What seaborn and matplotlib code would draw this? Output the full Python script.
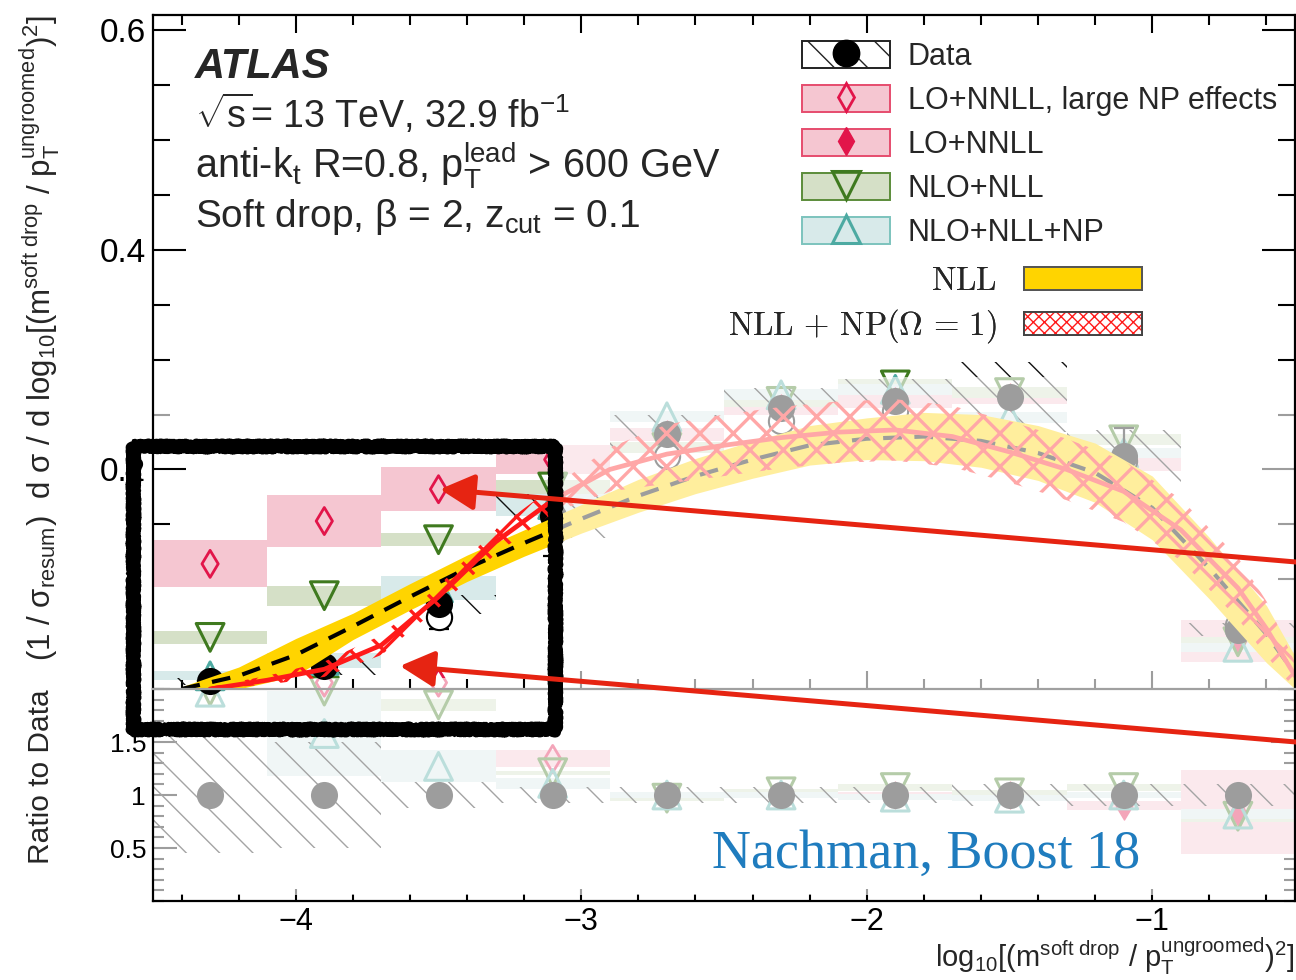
import numpy as np
import matplotlib
matplotlib.use("Agg")
import matplotlib.pyplot as plt
import seaborn as sns
from matplotlib.patches import Rectangle, Patch
from matplotlib.lines import Line2D
from matplotlib.font_manager import FontProperties
from matplotlib.ticker import MultipleLocator, FixedLocator, FuncFormatter

sns.set_theme(style="ticks")
plt.rcParams.update({
    "font.family": ["Liberation Sans", "DejaVu Sans"],
    "mathtext.fontset": "custom",
    "mathtext.rm": "Liberation Sans",
    "mathtext.it": "Liberation Sans:italic",
    "mathtext.bf": "Liberation Sans:bold",
    "axes.linewidth": 1.6,
    "axes.edgecolor": "black",
    "xtick.color": "black",
    "ytick.color": "black",
    "hatch.linewidth": 1.0,
})

nan = np.nan

# ---------------- binning in log10[(m / pT)^2] ----------------
bin_edges = np.array([-4.5, -4.1, -3.7, -3.3, -2.9, -2.5, -2.1, -1.7, -1.3, -0.9, -0.5])
centers = 0.5 * (bin_edges[:-1] + bin_edges[1:])
widths = np.diff(bin_edges)

# ---------------- unfolded data ----------------
data_y = np.array([0.007, 0.021, 0.077, 0.158, 0.232, 0.256, 0.262, 0.266, 0.212, 0.054])
data_err = np.array([0.003, 0.008, 0.009, 0.020, 0.018, 0.018, 0.020, 0.032, 0.024, 0.006])
data_ratio = data_y / data_y
data_ratio_err = np.array([0.55, 0.50, 0.12, 0.08, 0.08, 0.08, 0.08, 0.10, 0.10, 0.10])

# ---------------- LO+NNLL, large NP effects ----------------
lonp_y = np.array([0.114, 0.153, 0.182, 0.209, nan, nan, nan, nan, nan, nan])
lonp_err = np.array([0.0215, 0.024, 0.020, 0.013, nan, nan, nan, nan, nan, nan])
lonp_ratio = np.array([nan, 2.06, 2.06, 1.34, nan, nan, nan, nan, nan, nan])
lonp_rerr = np.array([nan, nan, nan, 0.08, nan, nan, nan, nan, nan, nan])

# ---------------- LO+NNLL ----------------
lo_y = np.array([nan, nan, nan, nan, 0.232, 0.256, 0.262, 0.266, 0.205, 0.044])
lo_err = np.array([nan, nan, nan, nan, 0.006, 0.006, 0.006, 0.006, 0.006, 0.019])
lo_ratio = np.array([nan, nan, nan, nan, 1.00, 1.00, 1.00, 1.00, 0.90, 0.84])
lo_rerr = np.array([nan, nan, nan, nan, 0.03, 0.03, 0.03, 0.03, 0.04, 0.40])

# ---------------- NLO+NLL ----------------
nlo_y = np.array([0.047, 0.085, 0.136, 0.184, 0.220, 0.262, 0.277, 0.270, 0.227, 0.043])
nlo_err = np.array([0.006, 0.009, 0.006, 0.006, 0.005, 0.005, 0.005, 0.005, 0.005, 0.004])
nlo_ratio = np.array([1.98, 1.98, 1.85, 1.21, 0.97, 1.03, 1.07, 1.02, 1.07, 0.80])
nlo_rerr = np.array([nan, nan, 0.06, 0.02, 0.03, 0.03, 0.03, 0.03, 0.03, 0.05])

# ---------------- NLO+NLL+NP ----------------
nlonp_y = np.array([0.012, 0.026, 0.092, 0.168, 0.248, 0.268, 0.273, 0.247, 0.215, 0.038])
nlonp_err = np.array([0.004, 0.007, 0.011, 0.010, 0.005, 0.005, 0.005, 0.005, 0.005, 0.004])
nlonp_ratio = np.array([1.97, 1.58, 1.27, 1.11, 1.00, 1.00, 0.98, 0.97, 1.00, 0.82])
nlonp_rerr = np.array([nan, 0.40, 0.15, 0.05, 0.03, 0.03, 0.03, 0.03, 0.03, 0.05])

# ---------------- NLL resummation band ----------------
nll_x = np.array([-4.4, -4.2, -4.0, -3.8, -3.6, -3.4, -3.2, -3.0, -2.8, -2.6, -2.4,
                  -2.2, -2.0, -1.8, -1.6, -1.4, -1.2, -1.0, -0.8, -0.6, -0.5])
nll_mid = np.array([0.000, 0.012, 0.031, 0.057, 0.084, 0.110, 0.133, 0.155, 0.176, 0.194, 0.209,
                    0.222, 0.228, 0.230, 0.226, 0.215, 0.197, 0.165, 0.110, 0.050, 0.014])
nll_lo = np.array([0.000, 0.000, 0.012, 0.045, 0.072, 0.098, 0.121, 0.142, 0.161, 0.178, 0.192,
                   0.204, 0.209, 0.208, 0.202, 0.190, 0.170, 0.136, 0.082, 0.024, 0.000])
nll_hi = np.array([0.002, 0.020, 0.046, 0.069, 0.096, 0.122, 0.145, 0.168, 0.191, 0.210, 0.226,
                   0.240, 0.247, 0.252, 0.250, 0.240, 0.224, 0.194, 0.138, 0.076, 0.030])

# ---------------- NLL + NP(Omega = 1) band ----------------
np_x = np.array([-4.3, -4.1, -3.9, -3.7, -3.5, -3.3, -3.1, -2.9, -2.7, -2.5, -2.3,
                 -2.1, -1.9, -1.7, -1.5, -1.3, -1.1, -0.9, -0.7, -0.6, -0.5])
np_mid = np.array([0.000, 0.008, 0.018, 0.040, 0.084, 0.134, 0.172, 0.200, 0.214, 0.222, 0.229,
                   0.234, 0.236, 0.230, 0.216, 0.200, 0.180, 0.145, 0.092, 0.055, 0.012])
np_lo = np.array([0.000, 0.004, 0.011, 0.031, 0.074, 0.123, 0.160, 0.180, 0.187, 0.194, 0.201,
                  0.206, 0.208, 0.202, 0.188, 0.172, 0.152, 0.117, 0.064, 0.030, 0.000])
np_hi = np.array([0.002, 0.012, 0.025, 0.049, 0.094, 0.145, 0.184, 0.220, 0.241, 0.250, 0.257,
                  0.262, 0.264, 0.258, 0.244, 0.228, 0.208, 0.173, 0.120, 0.080, 0.024])

# ---------------- measurement shown with the NLL curves ----------------
ovl_x = np.array([-3.5, -3.1, -2.7, -2.3, -1.9, -1.1, -0.7])
ovl_y = np.array([0.066, 0.143, 0.212, 0.244, 0.253, 0.208, 0.058])
ovl_dn = np.array([0.011, 0.022, 0.020, 0.022, 0.030, 0.000, 0.000])
ovl_up = np.array([0.000, 0.000, 0.000, 0.000, 0.000, 0.030, 0.012])

# ---------------- colours ----------------
pink_fill, pink_edge, crimson = "#F5C6D1", "#E64C6E", "#E2154A"
green_fill, green_edge, green_mark = "#D5E0C7", "#5B8C3A", "#3F7A1F"
cyan_fill, cyan_edge, cyan_mark = "#D8EAEA", "#7CC3BD", "#4DAAA2"
gold = "#FFD400"
np_red = "#FF1A1A"
arrow_red = "#E62412"

W, H = 1296, 980
fig = plt.figure(figsize=(W / 100, H / 100), dpi=100)
ax = fig.add_axes([153 / W, 1 - 689 / H, 1142 / W, 674 / H])
axr = fig.add_axes([153 / W, 1 - 901 / H, 1142 / W, 212 / H])
ax.set_zorder(2)
axr.set_zorder(1)
ax.patch.set_visible(False)


def draw_boxes(a, y, err, color, z):
    y = np.asarray(y, float)
    err = np.asarray(err, float)
    m = np.isfinite(y) & np.isfinite(err)
    a.bar(centers[m], 2 * err[m], bottom=y[m] - err[m], width=widths[m],
          color=color, linewidth=0, zorder=z)


def draw_hatch(a, y, err, z):
    y = np.asarray(y, float)
    m = np.isfinite(y)
    a.bar(centers[m], 2 * err[m], bottom=y[m] - err[m], width=widths[m],
          facecolor="none", edgecolor="#111111", hatch="\\", linewidth=0, zorder=z)


def draw_markers(a, y, marker, size, fc, ec, lw, z):
    y = np.asarray(y, float)
    m = np.isfinite(y)
    sns.scatterplot(x=centers[m], y=y[m], marker=marker, s=size, color=ec,
                    facecolor=fc, edgecolor=ec, linewidth=lw, zorder=z,
                    clip_on=False, legend=False, ax=a)


for a, (dy, de), series in [
    (ax, (data_y, data_err), [(lonp_y, lonp_err), (lo_y, lo_err), (nlo_y, nlo_err), (nlonp_y, nlonp_err)]),
    (axr, (data_ratio, data_ratio_err), [(lonp_ratio, lonp_rerr), (lo_ratio, lo_rerr), (nlo_ratio, nlo_rerr), (nlonp_ratio, nlonp_rerr)]),
]:
    fills = [pink_fill, pink_fill, green_fill, cyan_fill]
    for (yv, ev), fc in zip(series, fills):
        draw_boxes(a, yv, ev, fc, 0.6)
    draw_hatch(a, dy, de, 0.7)
    draw_markers(a, series[0][0], "d", 190, "none", crimson, 2.0, 0.9)
    draw_markers(a, series[1][0], "d", 190, crimson, crimson, 1.0, 0.9)
    draw_markers(a, series[2][0], "v", 400, "none", green_mark, 2.2, 0.92)
    draw_markers(a, series[3][0], "^", 400, "none", cyan_mark, 2.2, 0.94)
    draw_markers(a, dy, "o", 380, "black", "black", 0, 1.0)

# measurement points drawn with the NLL curves (sitting behind the ATLAS points)
ax.vlines(ovl_x, ovl_y - ovl_dn, ovl_y + ovl_up, color="black", linewidth=1.6, zorder=0.95)
cap_lo = ovl_dn > 0
cap_hi = ovl_up > 0
ax.scatter(ovl_x[cap_lo], (ovl_y - ovl_dn)[cap_lo], marker="_", s=200, color="black",
           linewidths=1.6, zorder=0.95)
ax.scatter(ovl_x[cap_hi], (ovl_y + ovl_up)[cap_hi], marker="_", s=200, color="black",
           linewidths=1.6, zorder=0.95)
sns.scatterplot(x=ovl_x, y=ovl_y, marker="o", s=330, color="black", facecolor="white",
                edgecolor="black", linewidth=1.5, zorder=0.97, legend=False, ax=ax)

# NLL band and central curve
ax.fill_between(nll_x, nll_lo, nll_hi, color=gold, linewidth=0, zorder=1.1)
sns.lineplot(x=nll_x, y=nll_mid, color="black", linewidth=3.0, sort=False, zorder=1.15, ax=ax)
ax.lines[-1].set_dashes([4.5, 3.0])

# NLL + NP band, cross-hatched
npb = ax.fill_between(np_x, np_lo, np_hi, facecolor="none", edgecolor=np_red,
                      hatch="x", linewidth=0, zorder=1.2)
if hasattr(npb, "set_hatch_linewidth"):
    npb.set_hatch_linewidth(2.4)
sns.lineplot(x=np_x, y=np_mid, color=np_red, linewidth=3.4, sort=False, zorder=1.25, ax=ax)

# washed-out layer over everything outside the highlighted low-mass region
fade = dict(facecolor="white", alpha=0.62, linewidth=0, zorder=1.45)
ax.add_patch(Rectangle((-3.09, -0.01), 2.6, 0.294, **fade))
ax.add_patch(Rectangle((-4.495, 0.221), 1.405, 0.063, **fade))
axr.add_patch(Rectangle((-4.495, 0.06), 3.995, 2.04, clip_on=False, **fade))

# ---------------- axes styling ----------------
grey = "#A0A0A0"
ax.set_xlim(-4.5, -0.5)
ax.set_ylim(0, 0.614)
ax.xaxis.set_major_locator(MultipleLocator(1))
ax.xaxis.set_minor_locator(MultipleLocator(0.2))
ax.yaxis.set_major_locator(FixedLocator([0.2, 0.4, 0.6]))
ax.yaxis.set_minor_locator(MultipleLocator(0.05))
ax.tick_params(axis="both", which="both", direction="in", top=True, right=True, labelbottom=False)
ax.tick_params(axis="x", which="major", length=13, width=1.5)
ax.tick_params(axis="x", which="minor", length=7, width=1.5)
ax.tick_params(axis="y", which="major", length=24, width=1.5, labelsize=24, pad=5)
ax.tick_params(axis="y", which="minor", length=12, width=1.5)
ax.yaxis.set_major_formatter(FuncFormatter(lambda v, p: f"{v:.1f}"))
ax.spines["bottom"].set_color(grey)
for t in ax.xaxis.get_major_ticks() + ax.xaxis.get_minor_ticks():
    t.tick1line.set_color(grey)

axr.set_xlim(-4.5, -0.5)
axr.set_ylim(0, 2.0)
axr.xaxis.set_major_locator(MultipleLocator(1))
axr.xaxis.set_minor_locator(MultipleLocator(0.2))
axr.yaxis.set_major_locator(FixedLocator([0.5, 1.0, 1.5]))
axr.yaxis.set_minor_locator(MultipleLocator(0.1))
axr.yaxis.set_major_formatter(FuncFormatter(lambda v, p: f"{v:g}"))
axr.tick_params(axis="both", which="both", direction="in", top=False, right=True)
axr.tick_params(axis="x", which="major", length=9, width=1.5, labelsize=22, pad=4)
axr.tick_params(axis="x", which="minor", length=5, width=1.5)
axr.tick_params(axis="y", which="major", length=17, width=1.5, labelsize=19, pad=5)
axr.tick_params(axis="y", which="minor", length=8, width=1.5)
axr.spines["top"].set_visible(False)

ax.set_ylabel("(1 / σ$_{\\mathrm{resum}}$)  d σ / d log$_{10}$[(m$^{\\mathrm{soft\\ drop}}$ / "
              "p$_{\\mathrm{T}}^{\\mathrm{ungroomed}}$)$^{2}$]", loc="top", fontsize=22.5)
ax.yaxis.set_label_coords(-0.080, 1.0)
axr.set_ylabel("Ratio to Data", loc="top", fontsize=21.5)
axr.yaxis.set_label_coords(-0.086, 1.0)
axr.set_xlabel("log$_{10}$[(m$^{\\mathrm{soft\\ drop}}$ / p$_{\\mathrm{T}}^{\\mathrm{ungroomed}}$)$^{2}$]",
               loc="right", fontsize=21)
axr.xaxis.set_label_coords(1.0, -0.165)

# ---------------- ATLAS labels ----------------
tx = 0.0368
ax.text(tx, 0.906, "ATLAS", transform=ax.transAxes, fontsize=30, fontweight="bold",
        fontstyle="italic", va="baseline")
ax.text(tx, 0.832, "$\\sqrt{\\mathrm{s}}$= 13 TeV, 32.9 fb$^{\\mathrm{-1}}$", transform=ax.transAxes,
        fontsize=27, va="baseline")
ax.text(tx, 0.758, "anti-k$_{\\mathrm{t}}$ R=0.8, p$_{\\mathrm{T}}^{\\mathrm{lead}}$ > 600 GeV",
        transform=ax.transAxes, fontsize=28.5, va="baseline")
ax.text(tx, 0.685, "Soft drop, β = 2, z$_{\\mathrm{cut}}$ = 0.1", transform=ax.transAxes,
        fontsize=28, va="baseline")

# ---------------- legends ----------------
h_data = (Patch(facecolor="white", edgecolor="#222222", hatch="\\", linewidth=1.4),
          Line2D([], [], marker="o", ls="none", color="black", markersize=19))
h_lonp = (Patch(facecolor=pink_fill, edgecolor=pink_edge, linewidth=1.4),
          Line2D([], [], marker="d", ls="none", mfc="none", mec=crimson, mew=2.0, markersize=14))
h_lo = (Patch(facecolor=pink_fill, edgecolor=pink_edge, linewidth=1.4),
        Line2D([], [], marker="d", ls="none", mfc=crimson, mec=crimson, markersize=14))
h_nlo = (Patch(facecolor=green_fill, edgecolor=green_edge, linewidth=1.4),
         Line2D([], [], marker="v", ls="none", mfc="none", mec=green_mark, mew=2.2, markersize=20))
h_nlonp = (Patch(facecolor=cyan_fill, edgecolor=cyan_edge, linewidth=1.4),
           Line2D([], [], marker="^", ls="none", mfc="none", mec=cyan_mark, mew=2.2, markersize=20))
leg1 = ax.legend([h_data, h_lonp, h_lo, h_nlo, h_nlonp],
                 ["Data", "LO+NNLL, large NP effects", "LO+NNLL", "NLO+NLL", "NLO+NLL+NP"],
                 loc="upper left", bbox_to_anchor=(0.568, 0.962), frameon=False, fontsize=22,
                 handlelength=2.88, handleheight=1.0, handletextpad=0.6, labelspacing=0.42,
                 borderpad=0, borderaxespad=0)
ax.add_artist(leg1)

h_nll = Patch(facecolor=gold, edgecolor="#555555", linewidth=1.4)
h_np = (Patch(facecolor="white", edgecolor=np_red, hatch="xxx", linewidth=0),
        Patch(facecolor="none", edgecolor="#444444", linewidth=1.4))
fp = FontProperties(family="DejaVu Serif", size=23.5, math_fontfamily="cm")
leg2 = ax.legend([h_nll, h_np],
                 ["$\\mathrm{NLL}$", "$\\mathrm{NLL}\\,+\\,\\mathrm{NP}(\\Omega\\,=\\,1)$"],
                 loc="upper right", bbox_to_anchor=(0.866, 0.629), markerfirst=False, prop=fp,
                 frameon=False, handlelength=3.6, handleheight=0.72, handletextpad=0.85,
                 labelspacing=0.32, borderpad=0, borderaxespad=0)
ax.add_artist(leg2)

# ---------------- highlight box (rough marker stroke), arrows and credit ----------------
for lw, sk in [(8, (2.5, 2.0, 2.0)), (4, (4.5, 2.0, 3.0)), (2.5, (6.0, 1.5, 3.0)), (2.5, (5.0, 3.0, 2.0))]:
    box = Rectangle((-4.57, -0.036), 1.478, 0.257, fill=False, edgecolor="black",
                    linewidth=lw, clip_on=False, zorder=10, joinstyle="round", capstyle="round")
    box.set_sketch_params(*sk)
    ax.add_patch(box)

for tip, tail in [((-3.495, 0.182), (1.0, 1 - 562 / H)), ((-3.635, 0.021), (1.0, 1 - 742 / H))]:
    ax.annotate("", xy=tip, xycoords="data", xytext=tail, textcoords="figure fraction",
                arrowprops=dict(arrowstyle="-|>,head_length=0.95,head_width=0.5", color=arrow_red,
                                lw=3.6, shrinkA=0, shrinkB=0, mutation_scale=22),
                annotation_clip=False, zorder=11)

axr.text(-2.542, 0.31, "Nachman, Boost 18", fontsize=39, color="#1F7CBE",
         family="Liberation Serif", va="baseline", zorder=10)

fig.savefig("out.png", dpi=100, facecolor="white")
